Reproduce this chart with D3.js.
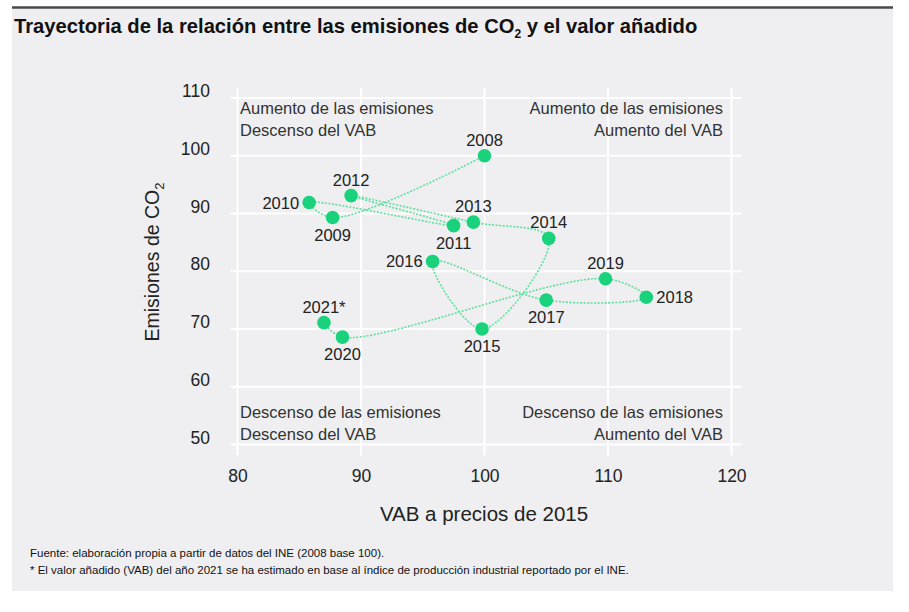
<!DOCTYPE html>
<html>
<head>
<meta charset="utf-8">
<script src="https://cdn.jsdelivr.net/npm/d3@7"></script>
<style>
  body { margin: 0; background: #ffffff; }
  svg text { font-family: "Liberation Sans", Arial, sans-serif; }
</style>
</head>
<body>
<div id="chart"></div>
<script>
// Data
var years = ["2008", "2009", "2010", "2011", "2012", "2013", "2014", "2015", "2016", "2017", "2018", "2019", "2020", "2021*"];
var vab = [100, 87.7, 85.8, 97.5, 89.2, 99.1, 105.2, 99.8, 95.8, 105.0, 113.1, 109.8, 88.5, 87.0];
var emisiones = [100, 89.3, 91.9, 87.9, 93.1, 88.5, 85.7, 70.0, 81.7, 75.0, 75.5, 78.7, 68.6, 71.1];
// where each year label sits relative to its dot
var labelSide = ["above", "below", "left", "below", "above", "above", "above", "below", "left", "below", "right", "above", "below", "above"];
var xTicks = [80, 90, 100, 110, 120];
var yTicks = [50, 60, 70, 80, 90, 100, 110];

var width = 909, height = 612;
var green = "#1ad27c";
var lineGreen = "#5fdf9c";
var textColor = "#222";

var svg = d3.select("#chart").append("svg")
    .attr("width", width)
    .attr("height", height);

// Grey panel and top rule
svg.append("rect")
    .attr("x", 12).attr("y", 8)
    .attr("width", 881).attr("height", 583)
    .attr("fill", "#efeff1");
svg.append("line")
    .attr("x1", 12).attr("x2", 893)
    .attr("y1", 7.5).attr("y2", 7.5)
    .attr("stroke", "#4a4a4a")
    .attr("stroke-width", 2.5);

// Title with subscript
var title = svg.append("text")
    .attr("x", 14).attr("y", 33)
    .attr("font-size", 20.2)
    .attr("font-weight", "bold")
    .attr("fill", "#111");
title.append("tspan").text("Trayectoria de la relación entre las emisiones de CO");
title.append("tspan").attr("font-size", 12).attr("dy", 5).text("2");
title.append("tspan").attr("dy", -5).text(" y el valor añadido");

// Scales
var x = d3.scaleLinear().domain([80, 120]).range([237.5, 731.5]);
var y = d3.scaleLinear().domain([50, 110]).range([444.5, 98]);

// Grid lines
var grid = svg.append("g");
grid.selectAll(".vgrid")
    .data(xTicks)
    .enter().append("line")
    .attr("x1", d => x(d)).attr("x2", d => x(d))
    .attr("y1", y(110) - 10).attr("y2", y(50) + 11)
    .attr("stroke", "#ffffff")
    .attr("stroke-width", 2);
grid.selectAll(".hgrid")
    .data(yTicks)
    .enter().append("line")
    .attr("x1", x(80) - 7).attr("x2", x(120) + 10)
    .attr("y1", d => y(d)).attr("y2", d => y(d))
    .attr("stroke", "#ffffff")
    .attr("stroke-width", 2);

// Axes (only labels, no domain or tick lines)
var xAxis = svg.append("g")
    .attr("transform", "translate(0, 470)")
    .call(d3.axisBottom(x).tickValues(xTicks).tickSize(0).tickPadding(0));
var yAxis = svg.append("g")
    .attr("transform", "translate(210, -7)")
    .call(d3.axisLeft(y).tickValues(yTicks).tickSize(0).tickPadding(0));
[xAxis, yAxis].forEach(function (ax) {
    ax.select(".domain").remove();
    ax.selectAll("text")
        .attr("font-size", 17.5)
        .attr("font-family", "Liberation Sans, Arial, sans-serif")
        .attr("fill", textColor);
});
xAxis.selectAll("text").attr("dy", "0.71em");

// Axis titles
svg.append("text")
    .attr("x", 484).attr("y", 521)
    .attr("text-anchor", "middle")
    .attr("font-size", 20.5)
    .attr("fill", textColor)
    .text("VAB a precios de 2015");

var yTitle = svg.append("text")
    .attr("transform", "translate(159, 262) rotate(-90)")
    .attr("text-anchor", "middle")
    .attr("font-size", 19.5)
    .attr("fill", textColor);
yTitle.append("tspan").text("Emisiones de CO");
yTitle.append("tspan").attr("font-size", 13).attr("dy", 5).text("2");

// Quadrant notes
var notes = svg.append("g")
    .attr("font-size", 16.5)
    .attr("fill", "#333");
notes.append("text").attr("x", 240).attr("y", 114).text("Aumento de las emisiones");
notes.append("text").attr("x", 240).attr("y", 136).text("Descenso del VAB");
notes.append("text").attr("x", 723).attr("y", 114).attr("text-anchor", "end").text("Aumento de las emisiones");
notes.append("text").attr("x", 723).attr("y", 136).attr("text-anchor", "end").text("Aumento del VAB");
notes.append("text").attr("x", 240).attr("y", 418).text("Descenso de las emisiones");
notes.append("text").attr("x", 240).attr("y", 440).text("Descenso del VAB");
notes.append("text").attr("x", 723).attr("y", 418).attr("text-anchor", "end").text("Descenso de las emisiones");
notes.append("text").attr("x", 723).attr("y", 440).attr("text-anchor", "end").text("Aumento del VAB");

// Trajectory
var points = years.map((yr, i) => ({ year: yr, vab: vab[i], em: emisiones[i], side: labelSide[i] }));

var line = d3.line()
    .x(d => x(d.vab))
    .y(d => y(d.em))
    .curve(d3.curveCatmullRom.alpha(0.5));

svg.append("path")
    .datum(points)
    .attr("d", line)
    .attr("fill", "none")
    .attr("stroke", lineGreen)
    .attr("stroke-width", 1.6)
    .attr("stroke-dasharray", "2,1.5");

svg.selectAll(".dot")
    .data(points)
    .enter().append("circle")
    .attr("cx", d => x(d.vab))
    .attr("cy", d => y(d.em))
    .attr("r", 6.8)
    .attr("fill", green);

// Year labels placed around the dots
svg.selectAll(".yearLabel")
    .data(points)
    .enter().append("text")
    .attr("font-size", 16.5)
    .attr("fill", textColor)
    .attr("x", function (d) {
        if (d.side == "left") return x(d.vab) - 10;
        if (d.side == "right") return x(d.vab) + 10;
        return x(d.vab);
    })
    .attr("y", function (d) {
        if (d.side == "above") return y(d.em) - 10;
        if (d.side == "below") return y(d.em) + 23;
        return y(d.em) + 6;
    })
    .attr("text-anchor", function (d) {
        if (d.side == "left") return "end";
        if (d.side == "right") return "start";
        return "middle";
    })
    .text(d => d.year);

// Footnotes
var foot = svg.append("g")
    .attr("font-size", 11.5)
    .attr("fill", "#111");
foot.append("text").attr("x", 30).attr("y", 557)
    .text("Fuente: elaboración propia a partir de datos del INE (2008 base 100).");
foot.append("text").attr("x", 30).attr("y", 574)
    .text("* El valor añadido (VAB) del año 2021 se ha estimado en base al índice de producción industrial reportado por el INE.");
</script>
</body>
</html>
